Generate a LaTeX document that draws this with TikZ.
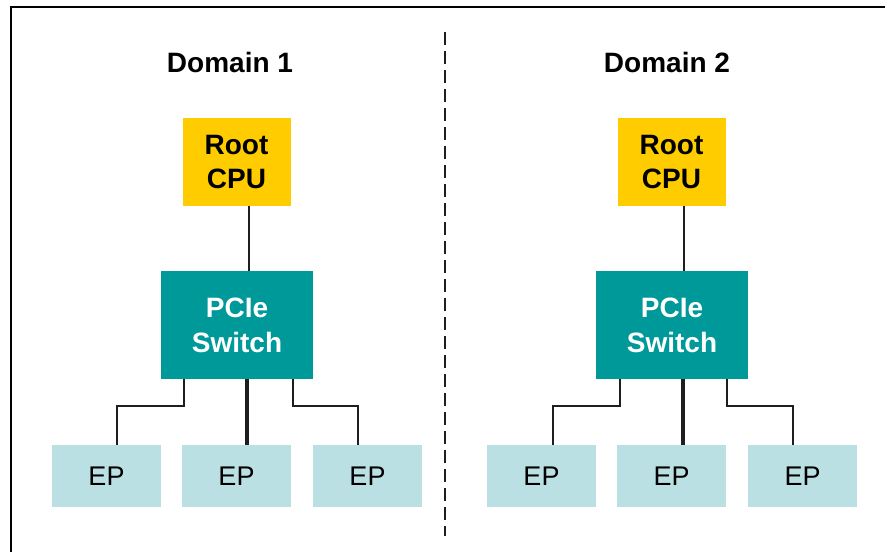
\documentclass[tikz,border=0pt]{standalone}
\usepackage{fontspec}
\setmainfont{Liberation Sans}
\usetikzlibrary{calc}
\definecolor{rootyellow}{RGB}{255,204,0}
\definecolor{switchteal}{RGB}{0,153,153}
\definecolor{eplight}{RGB}{187,224,227}
\definecolor{linegray}{RGB}{30,30,30}
\begin{document}
\begin{tikzpicture}[x=1pt,y=-1pt,
  rootbox/.style={fill=rootyellow, minimum width=108pt, minimum height=88pt, inner sep=0pt,
    align=center, font=\fontsize{28}{34}\selectfont\bfseries, text=black},
  switchbox/.style={fill=switchteal, minimum width=152pt, minimum height=108pt, inner sep=0pt,
    align=center, font=\fontsize{28}{35}\selectfont\bfseries, text=white},
  epbox/.style={fill=eplight, minimum width=109pt, minimum height=62pt, inner sep=0pt,
    font=\fontsize{27}{32}\selectfont, text=black},
  title/.style={font=\fontsize{28}{34}\selectfont\bfseries, inner sep=0pt},
  conn/.style={draw=linegray, line width=2pt},
  thickconn/.style={draw=linegray, line width=4.5pt}]
\useasboundingbox (0,0) rectangle (885,552);
\fill[white] (0,0) rectangle (885,552);
% frame
\draw[line width=2.5pt, black] (11,552) -- (11,7) -- (885,7);
% divider
\draw[line width=2.5pt, linegray, dash pattern=on 13pt off 6pt] (445,32) -- (445,536);
% titles
\node[title] (t1) at (230,62) {Domain 1};
\node[title] (t2) at (667,62) {Domain 2};
% domain 1
\node[rootbox] (r1) at (236.5,162) {Root\\CPU};
\node[switchbox] (s1) at (237,325) {PCIe\\Switch};
\node[epbox] (e11) at (106.5,476) {EP};
\node[epbox] (e12) at (236.5,476) {EP};
\node[epbox] (e13) at (367.5,476) {EP};
% domain 2
\node[rootbox] (r2) at (671.5,162) {Root\\CPU};
\node[switchbox] (s2) at (672,325) {PCIe\\Switch};
\node[epbox] (e21) at (541.5,476) {EP};
\node[epbox] (e22) at (671.5,476) {EP};
\node[epbox] (e23) at (802.5,476) {EP};
% connectors domain 1
\draw[conn] ([xshift=12pt]r1.south) -- ([xshift=12pt]r1.south |- s1.north);
\draw[conn] ([xshift=23pt]s1.south west) -- ++(0,27) -| ([xshift=10.5pt]e11.north);
\draw[thickconn] ([xshift=10.5pt]e12.north |- s1.south) -- ([xshift=10.5pt]e12.north);
\draw[conn] ([xshift=-20pt]s1.south east) -- ++(0,27) -| ([xshift=-9.5pt]e13.north);
% connectors domain 2
\draw[conn] ([xshift=12.5pt]r2.south) -- ([xshift=12.5pt]r2.south |- s2.north);
\draw[conn] ([xshift=24pt]s2.south west) -- ++(0,27) -| ([xshift=11.5pt]e21.north);
\draw[thickconn] ([xshift=11.5pt]e22.north |- s2.south) -- ([xshift=11.5pt]e22.north);
\draw[conn] ([xshift=-21pt]s2.south east) -- ++(0,27) -| ([xshift=-9.5pt]e23.north);
\end{tikzpicture}
\end{document}
